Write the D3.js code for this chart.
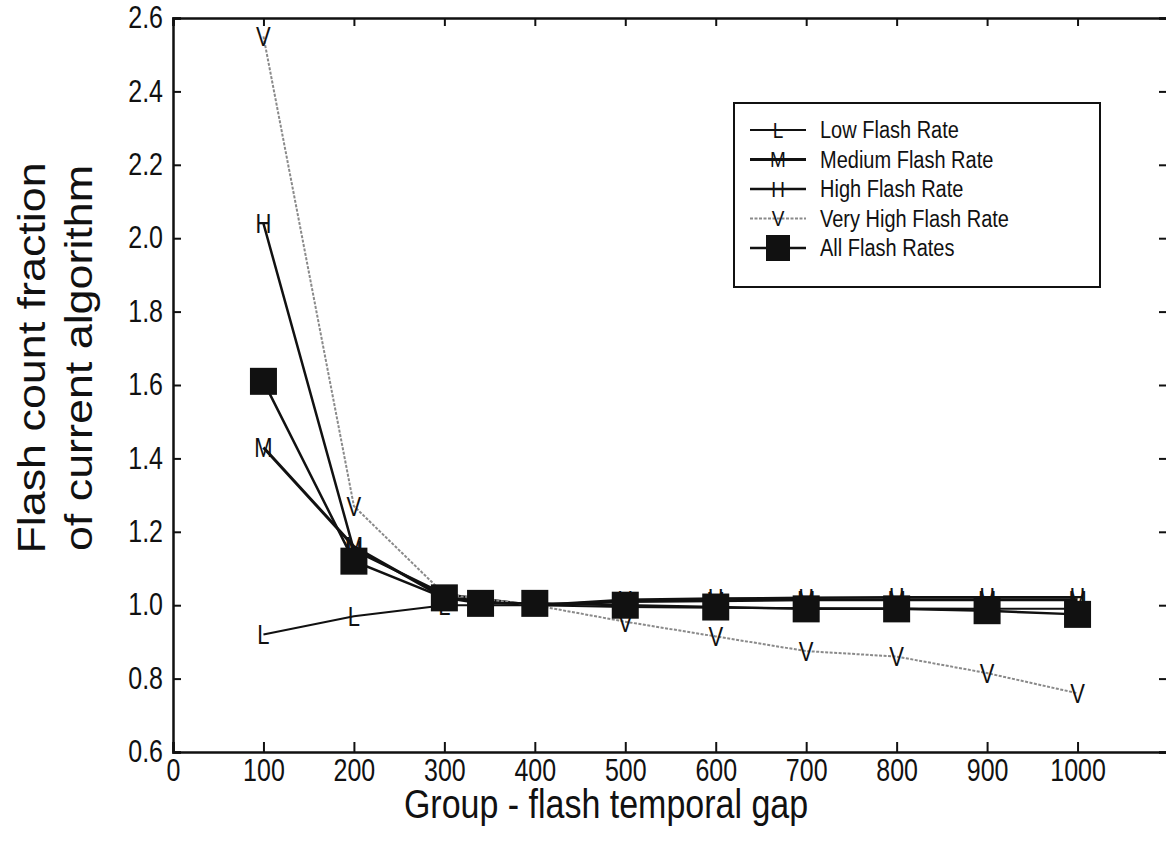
<!DOCTYPE html>
<html>
<head>
<meta charset="utf-8">
<script src="https://cdn.jsdelivr.net/npm/d3@7"></script>
<style>
    body { margin: 0; background: #fff; }
    svg text { font-family: "Liberation Sans", Arial, sans-serif; fill: #111; }
</style>
</head>
<body>
<div id="chart"></div>
<script>
// x positions (group - flash temporal gap)
let gaps = [100, 200, 300, 400, 500, 600, 700, 800, 900, 1000]
let allGaps = [100, 200, 300, 340, 400, 500, 600, 700, 800, 900, 1000]

// series values
let lowRate = [0.92, 0.97, 1.0, 1.0, 0.995, 0.993, 0.992, 0.991, 0.99, 0.99]
let mediumRate = [1.43, 1.16, 1.02, 1.0, 1.01, 1.012, 1.015, 1.015, 1.015, 1.015]
let highRate = [2.04, 1.15, 1.03, 1.0, 1.015, 1.018, 1.02, 1.022, 1.022, 1.022]
let veryHighRate = [2.55, 1.27, 1.03, 1.0, 0.955, 0.915, 0.875, 0.86, 0.815, 0.76]
let allRates = [1.61, 1.12, 1.02, 1.005, 1.005, 1.0, 0.995, 0.99, 0.99, 0.985, 0.975]

let xTicks = [0, 100, 200, 300, 400, 500, 600, 700, 800, 900, 1000]
let yTicks = [0.6, 0.8, 1.0, 1.2, 1.4, 1.6, 1.8, 2.0, 2.2, 2.4, 2.6]

let seriesNames = ["Low Flash Rate", "Medium Flash Rate", "High Flash Rate", "Very High Flash Rate", "All Flash Rates"]

let width = 1166, height = 844
let plot = { left: 173, right: 1168, top: 18, bottom: 752 }
let stretch = 1.22   // the scanned figure is a bit taller than wide

let svg = d3.select("#chart").append("svg")
    .attr("width", width)
    .attr("height", height)

let x = d3.scaleLinear().domain([0, 1100]).range([plot.left, plot.right])
let y = d3.scaleLinear().domain([0.6, 2.6]).range([plot.bottom, plot.top])

//坐标轴：四边刻度朝内
svg.append("g")
    .attr("transform", "translate(0," + plot.bottom + ")")
    .call(d3.axisBottom(x).tickValues(xTicks).tickSize(-10).tickPadding(6).tickFormat(d3.format("d")))
    .call(g => g.selectAll("text").attr("font-size", 25).attr("transform", "scale(1," + stretch + ")"))
svg.append("g")
    .attr("transform", "translate(0," + plot.top + ")")
    .call(d3.axisTop(x).tickValues(xTicks).tickSize(-8).tickFormat(""))
svg.append("g")
    .attr("transform", "translate(" + plot.left + ",0)")
    .call(d3.axisLeft(y).tickValues(yTicks).tickSize(-8).tickPadding(10).tickFormat(d3.format(".1f")))
    .call(g => g.selectAll("text").attr("font-size", 25).attr("transform", "scale(1," + stretch + ")"))
svg.append("g")
    .attr("transform", "translate(" + plot.right + ",0)")
    .call(d3.axisRight(y).tickValues(yTicks).tickSize(-9).tickFormat(""))

svg.selectAll(".domain").attr("stroke", "#111").attr("stroke-width", 2.5)
svg.selectAll(".tick line").attr("stroke", "#111").attr("stroke-width", 2)

// axis titles
svg.append("text")
    .attr("transform", "translate(606,818) scale(1," + stretch + ")")
    .attr("text-anchor", "middle")
    .attr("font-size", 34)
    .text("Group - flash temporal gap")
svg.append("text")
    .attr("transform", "translate(45,358) scale(1,1.18) rotate(-90)")
    .attr("text-anchor", "middle")
    .attr("font-size", 38)
    .text("Flash count fraction")
svg.append("text")
    .attr("transform", "translate(92,358) scale(1,1.18) rotate(-90)")
    .attr("text-anchor", "middle")
    .attr("font-size", 38)
    .text("of current algorithm")

let series = [
    { name: seriesNames[0], xs: gaps, values: lowRate, letter: "L", color: "#111", width: 2, dash: null },
    { name: seriesNames[1], xs: gaps, values: mediumRate, letter: "M", color: "#111", width: 3, dash: null },
    { name: seriesNames[2], xs: gaps, values: highRate, letter: "H", color: "#111", width: 2.5, dash: null },
    { name: seriesNames[3], xs: gaps, values: veryHighRate, letter: "V", color: "#8a8a8a", width: 2, dash: "3,1.5" },
    { name: seriesNames[4], xs: allGaps, values: allRates, letter: null, color: "#111", width: 2.5, dash: null }
]

let line = d3.line()
    .x(d => x(d[0]))
    .y(d => y(d[1]))

let groups = svg.selectAll(".series")
    .data(series)
    .enter()
    .append("g")
    .attr("class", "series")

groups.append("path")
    .attr("d", d => line(d.xs.map((v, i) => [v, d.values[i]])))
    .attr("fill", "none")
    .attr("stroke", d => d.color)
    .attr("stroke-width", d => d.width)
    .attr("stroke-dasharray", d => d.dash)

// letter markers
groups.filter(d => d.letter)
    .selectAll(".letter")
    .data(d => d.xs.map((v, i) => ({ x: v, y: d.values[i], letter: d.letter })))
    .enter()
    .append("text")
    .attr("class", "letter")
    .attr("transform", d => "translate(" + x(d.x) + "," + y(d.y) + ") scale(1,1.25)")
    .attr("dy", "0.36em")
    .attr("text-anchor", "middle")
    .attr("font-size", 22)
    .text(d => d.letter)

// square markers for all flash rates
let sq = 27
groups.filter(d => !d.letter)
    .selectAll(".square")
    .data(d => d.xs.map((v, i) => ({ x: v, y: d.values[i] })))
    .enter()
    .append("rect")
    .attr("class", "square")
    .attr("x", d => x(d.x) - sq / 2)
    .attr("y", d => y(d.y) - sq / 2)
    .attr("width", sq)
    .attr("height", sq)
    .attr("fill", "#111")

//图例
let legend = svg.append("g").attr("transform", "translate(734,103)")
legend.append("rect")
    .attr("width", 366).attr("height", 184)
    .attr("fill", "#fff")
    .attr("stroke", "#111").attr("stroke-width", 2)

let legendRows = legend.selectAll(".legendRow")
    .data(series)
    .enter()
    .append("g")
    .attr("class", "legendRow")
    .attr("transform", (d, i) => "translate(0," + (27 + i * 29.5) + ")")

legendRows.append("line")
    .attr("x1", 16).attr("x2", 72)
    .attr("stroke", d => d.color)
    .attr("stroke-width", d => d.width)
    .attr("stroke-dasharray", d => d.dash)
legendRows.filter(d => d.letter)
    .append("text")
    .attr("transform", "translate(44,0) scale(1,1.15)")
    .attr("dy", "0.36em")
    .attr("text-anchor", "middle")
    .attr("font-size", 19)
    .text(d => d.letter)
legendRows.filter(d => !d.letter)
    .append("rect")
    .attr("x", 44 - 12).attr("y", -13)
    .attr("width", 24).attr("height", 26)
    .attr("fill", "#111")
legendRows.append("text")
    .attr("transform", "translate(86,0) scale(1,1.15)")
    .attr("dy", "0.36em")
    .attr("font-size", 20)
    .text(d => d.name)
</script>
</body>
</html>
